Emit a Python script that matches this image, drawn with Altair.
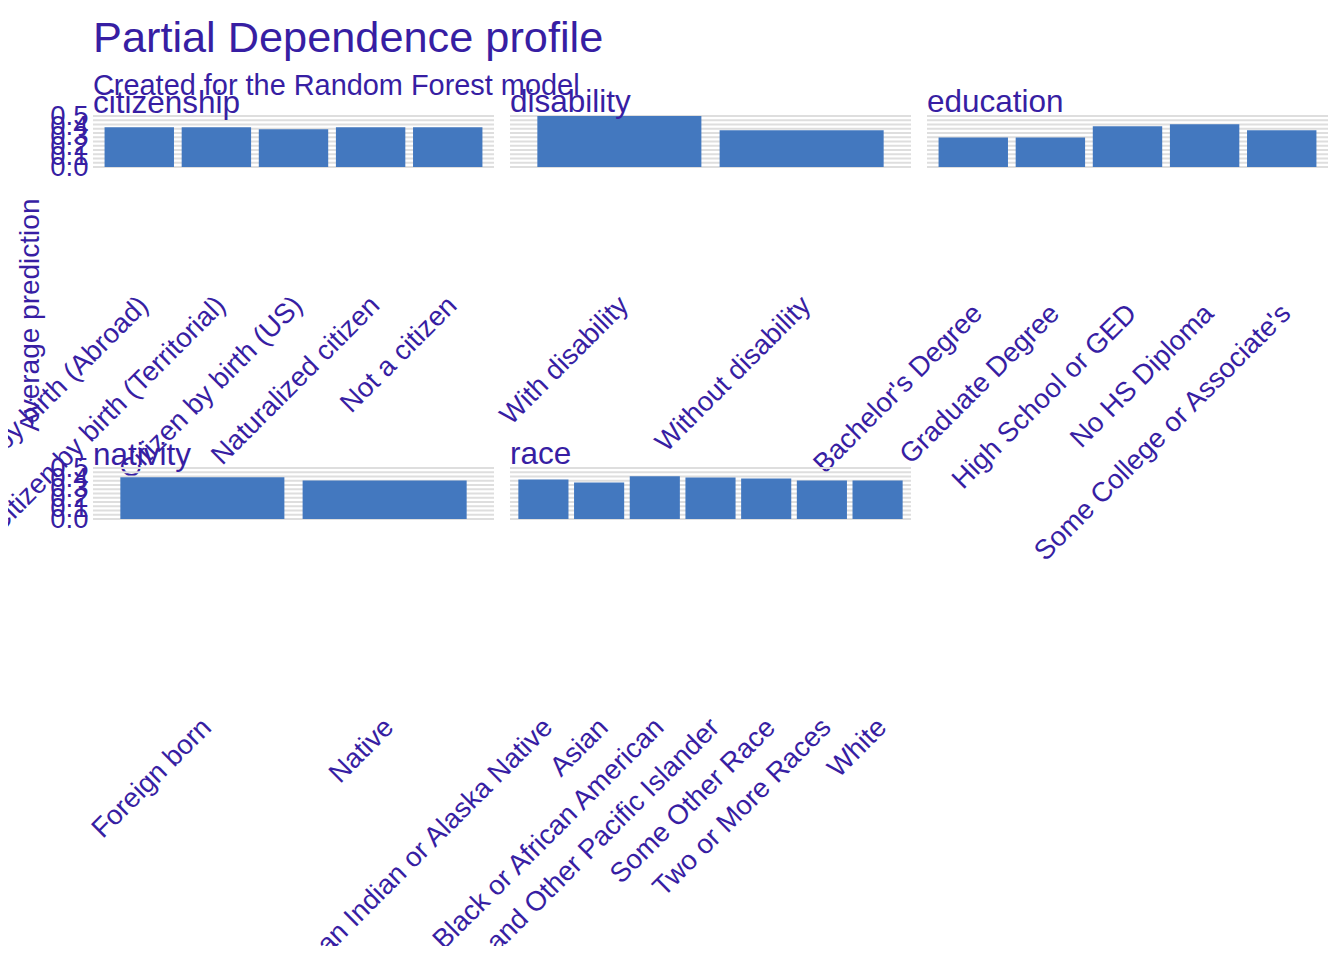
import altair as alt
import pandas as pd

# ---- data ----
citizenship_levels = ["Citizen by birth (Abroad)", "Citizen by birth (Territorial)",
                      "Citizen by birth (US)", "Naturalized citizen", "Not a citizen"]
citizenship_values = [0.39, 0.39, 0.37, 0.39, 0.39]

disability_levels = ["With disability", "Without disability"]
disability_values = [0.50, 0.36]

education_levels = ["Bachelor's Degree", "Graduate Degree", "High School or GED",
                    "No HS Diploma", "Some College or Associate's"]
education_values = [0.29, 0.29, 0.40, 0.42, 0.36]

nativity_levels = ["Foreign born", "Native"]
nativity_values = [0.41, 0.378]

race_levels = ["American Indian or Alaska Native", "Asian", "Black or African American",
               "Native Hawaiian and Other Pacific Islander", "Some Other Race",
               "Two or More Races", "White"]
race_values = [0.388, 0.358, 0.418, 0.408, 0.398, 0.378, 0.378]

y_ticks = [0.0, 0.1, 0.2, 0.3, 0.4, 0.5]

TXT = "#371ea3"
BAR = "#4378bf"
GRID = "#dedede"
FONT = "Liberation Sans"

grid_df = pd.DataFrame({"g": [i * 0.5 / 12 for i in range(13)]})
yscale = alt.Scale(domain=[0, 0.5], nice=False, zero=True)


def panel(name, levels, values, show_y, pad, title_offset, y_title=False):
    df = pd.DataFrame({"level": levels, "value": values})
    xaxis = alt.Axis(title=None, labelAngle=315, labelAlign="right", labelBaseline="top",
                     labelPadding=pad, labelOffset=-5, ticks=False, tickSize=0, domain=False,
                     labelOverlap=False, labelLimit=0, labelFontSize=27.5, grid=False,
                     labelColor=TXT, labelFont=FONT)
    if show_y:
        yargs = dict(values=y_ticks, format=".1f", labelFontSize=27.5, labelPadding=5,
                     ticks=False, tickSize=0, domain=False, grid=False, labelOverlap=False,
                     labelFlush=False, labelColor=TXT, labelFont=FONT)
        if y_title:
            yargs.update(title="Average prediction", titleX=-55, titleY=198.5, titleAngle=270,
                         titleAlign="center", titleBaseline="alphabetic", titleFontSize=28,
                         titleFontWeight="normal", titleColor=TXT, titleFont=FONT)
        else:
            yargs.update(title=None)
        yaxis = alt.Axis(**yargs)
    else:
        yaxis = None
    grid = alt.Chart(grid_df).mark_rule(color=GRID, strokeWidth=1.8).encode(
        y=alt.Y("g:Q", scale=yscale, axis=yaxis))
    bars = alt.Chart(df).mark_bar(color=BAR).encode(
        x=alt.X("level:N", sort=levels,
                scale=alt.Scale(paddingInner=0.1, paddingOuter=0.15), axis=xaxis),
        y=alt.Y("value:Q", scale=yscale, axis=yaxis),
    )
    return alt.layer(grid, bars).properties(
        width=401, height=51,
        title=alt.TitleParams(text=name, anchor="start", frame="group", fontSize=31.5,
                              font=FONT, color=TXT, fontWeight="normal", offset=title_offset),
    )


panels = [
    panel("citizenship", citizenship_levels, citizenship_values, True, 124, -17, y_title=True),
    panel("disability", disability_levels, disability_values, False, 124, -3),
    panel("education", education_levels, education_values, False, 132, -3),
    panel("nativity", nativity_levels, nativity_values, True, 194, -17),
    panel("race", race_levels, race_values, False, 194, -3),
]

chart = alt.concat(
    *panels, columns=3, spacing=alt.RowColnumber(row=301, column=16), bounds="flush",
    title=alt.TitleParams(text="Partial Dependence profile",
                          subtitle="Created for the Random Forest model",
                          anchor="start", frame="group", fontSize=43.3, subtitleFontSize=28.9,
                          font=FONT, subtitleFont=FONT, color=TXT, subtitleColor=TXT,
                          fontWeight="normal", subtitlePadding=10, offset=-15),
).properties(
    autosize=alt.AutoSizeParams(type="none"),
    padding={"left": 85, "top": 108, "right": 1243, "bottom": 830},
).configure_view(stroke=None).configure_axis(
    labelFont=FONT, labelColor=TXT, titleFont=FONT, titleColor=TXT
)

chart.save("out.html", embed_options={"renderer": "svg", "actions": False})
